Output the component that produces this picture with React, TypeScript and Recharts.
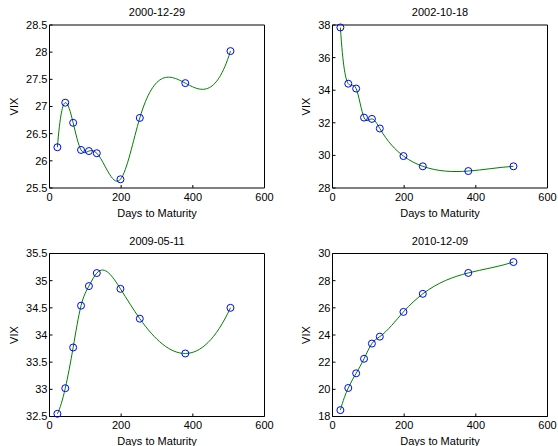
import React from 'react';
import { LineChart, Line, XAxis, YAxis } from 'recharts';

// days to maturity, same for every date
const days = [22, 44, 66, 88, 110, 132, 198, 252, 379, 505];

const vix20001229 = [26.25, 27.07, 26.7, 26.2, 26.18, 26.14, 25.66, 26.79, 27.43, 28.02];
const vix20021018 = [37.85, 34.4, 34.1, 32.32, 32.24, 31.65, 29.96, 29.33, 29.04, 29.33];
const vix20090511 = [32.55, 33.02, 33.77, 34.54, 34.9, 35.14, 34.85, 34.3, 33.66, 34.5];
const vix20101209 = [18.47, 20.1, 21.18, 22.25, 23.37, 23.88, 25.7, 27.03, 28.57, 29.37];

const dayTicks = [0, 200, 400, 600];
const ticks2000 = [25.5, 26, 26.5, 27, 27.5, 28, 28.5];
const ticks2002 = [28, 30, 32, 34, 36, 38];
const ticks2009 = [32.5, 33, 33.5, 34, 34.5, 35, 35.5];
const ticks2010 = [18, 20, 22, 24, 26, 28, 30];

const FONT = '"Liberation Sans", Arial, Helvetica, sans-serif';

// cubic spline through the points, x-parametrised, not-a-knot ends (like matlab spline)
class NotAKnotSpline {
  _context: any;
  _x: number[] = [];
  _y: number[] = [];
  constructor(context: any) {
    this._context = context;
  }
  areaStart() {}
  areaEnd() {}
  lineStart() {
    this._x = [];
    this._y = [];
  }
  point(x: number, y: number) {
    this._x.push(+x);
    this._y.push(+y);
  }
  lineEnd() {
    const xs = this._x;
    const ys = this._y;
    const n = xs.length;
    const ctx = this._context;
    if (!n) return;
    ctx.moveTo(xs[0], ys[0]);
    if (n < 4) {
      for (let i = 1; i < n; i++) ctx.lineTo(xs[i], ys[i]);
      return;
    }
    const h: number[] = [];
    for (let i = 0; i < n - 1; i++) h.push(xs[i + 1] - xs[i]);
    const A = Array.from({ length: n }, () => new Array(n).fill(0));
    const b = new Array(n).fill(0);
    A[0][0] = -h[1];
    A[0][1] = h[0] + h[1];
    A[0][2] = -h[0];
    for (let i = 1; i < n - 1; i++) {
      A[i][i - 1] = h[i - 1];
      A[i][i] = 2 * (h[i - 1] + h[i]);
      A[i][i + 1] = h[i];
      b[i] = 6 * ((ys[i + 1] - ys[i]) / h[i] - (ys[i] - ys[i - 1]) / h[i - 1]);
    }
    A[n - 1][n - 3] = -h[n - 2];
    A[n - 1][n - 2] = h[n - 3] + h[n - 2];
    A[n - 1][n - 1] = -h[n - 3];
    // gaussian elimination
    for (let c = 0; c < n; c++) {
      let p = c;
      for (let r = c + 1; r < n; r++) if (Math.abs(A[r][c]) > Math.abs(A[p][c])) p = r;
      [A[c], A[p]] = [A[p], A[c]];
      [b[c], b[p]] = [b[p], b[c]];
      for (let r = c + 1; r < n; r++) {
        const f = A[r][c] / A[c][c];
        for (let k = c; k < n; k++) A[r][k] -= f * A[c][k];
        b[r] -= f * b[c];
      }
    }
    const M = new Array(n).fill(0);
    for (let r = n - 1; r >= 0; r--) {
      let s = b[r];
      for (let k = r + 1; k < n; k++) s -= A[r][k] * M[k];
      M[r] = s / A[r][r];
    }
    for (let i = 0; i < n - 1; i++) {
      const s = (ys[i + 1] - ys[i]) / h[i];
      const mL = s - (h[i] * (2 * M[i] + M[i + 1])) / 6;
      const mR = s + (h[i] * (M[i] + 2 * M[i + 1])) / 6;
      ctx.bezierCurveTo(
        xs[i] + h[i] / 3, ys[i] + (mL * h[i]) / 3,
        xs[i + 1] - h[i] / 3, ys[i + 1] - (mR * h[i]) / 3,
        xs[i + 1], ys[i + 1]
      );
    }
  }
}

const curveSpline = (context: any) => new NotAKnotSpline(context);

type PanelProps = {
  title: string;
  values: number[];
  yDomain: [number, number];
  yTicks: number[];
  left: number; // panel position on page
  top: number;
  boxX: number; // plot box, page coords
  boxY: number;
  boxW: number;
  boxH: number;
  labelX: number; // VIX centre, page coords
};

const W = 279;
const H = 223;

const Panel = ({ title, values, yDomain, yTicks, left, top, boxX, boxY, boxW, boxH, labelX }: PanelProps) => {
  const data = days.map((d, i) => ({ days: d, vix: values[i] }));
  const yAxisW = boxX - left;
  const xAxisH = top + H - (boxY + boxH);
  const tickStyle = { fill: '#000', fontSize: 11, fontFamily: FONT };
  return (
    <div style={{ position: 'absolute', left, top, fontFamily: FONT, fontSize: 11 }}>
      <LineChart
        width={W}
        height={H}
        data={data}
        margin={{ top: boxY - top - 1, left: 0, right: left + W - (boxX + boxW) - 1, bottom: 0 }}
      >
        <XAxis
          dataKey="days"
          type="number"
          domain={[0, 600]}
          ticks={dayTicks}
          interval={0}
          height={xAxisH}
          tickSize={-3}
          tickMargin={8}
          stroke="#000"
          tick={tickStyle}
          label={{ value: 'Days to Maturity', position: 'insideBottom', offset: xAxisH - 28.5, fill: '#000', fontSize: 11 }}
        />
        <XAxis
          xAxisId="top"
          orientation="top"
          type="number"
          domain={[0, 600]}
          ticks={dayTicks}
          interval={0}
          height={1}
          tickSize={-3}
          tick={false}
          stroke="#000"
          label={{ value: title, position: 'top', offset: 8, fill: '#000', fontSize: 11 }}
        />
        <YAxis
          type="number"
          domain={yDomain}
          ticks={yTicks}
          interval={0}
          width={yAxisW}
          tickSize={-3}
          tickMargin={5}
          stroke="#000"
          tick={tickStyle}
          label={{
            value: 'VIX',
            angle: -90,
            position: 'insideLeft',
            offset: labelX - left,
            fill: '#000',
            fontSize: 11,
            style: { textAnchor: 'middle' },
          }}
        />
        <YAxis
          yAxisId="right"
          orientation="right"
          type="number"
          domain={yDomain}
          ticks={yTicks}
          interval={0}
          width={1}
          tickSize={-3}
          tick={false}
          stroke="#000"
        />
        <Line
          dataKey="vix"
          type={curveSpline as any}
          stroke="#008000"
          strokeWidth={1}
          dot={{ r: 3.5, stroke: '#0000ff', strokeWidth: 1, fill: 'none' }}
          activeDot={false}
          isAnimationActive={false}
        />
      </LineChart>
    </div>
  );
};

export default function App() {
  return (
    <div style={{ position: 'absolute', left: 0, top: 0, width: 558, height: 446, background: '#fff' }}>
      <Panel title="2000-12-29" values={vix20001229} yDomain={[25.5, 28.5]} yTicks={ticks2000}
        left={0} top={0} boxX={49.5} boxY={25} boxW={215} boxH={163} labelX={14} />
      <Panel title="2002-10-18" values={vix20021018} yDomain={[28, 38]} yTicks={ticks2002}
        left={279} top={0} boxX={332.5} boxY={25} boxW={215} boxH={163} labelX={306} />
      <Panel title="2009-05-11" values={vix20090511} yDomain={[32.5, 35.5]} yTicks={ticks2009}
        left={0} top={223} boxX={49.5} boxY={253.5} boxW={215} boxH={163} labelX={14} />
      <Panel title="2010-12-09" values={vix20101209} yDomain={[18, 30]} yTicks={ticks2010}
        left={279} top={223} boxX={332.5} boxY={253.5} boxW={215} boxH={163} labelX={306} />
    </div>
  );
}
